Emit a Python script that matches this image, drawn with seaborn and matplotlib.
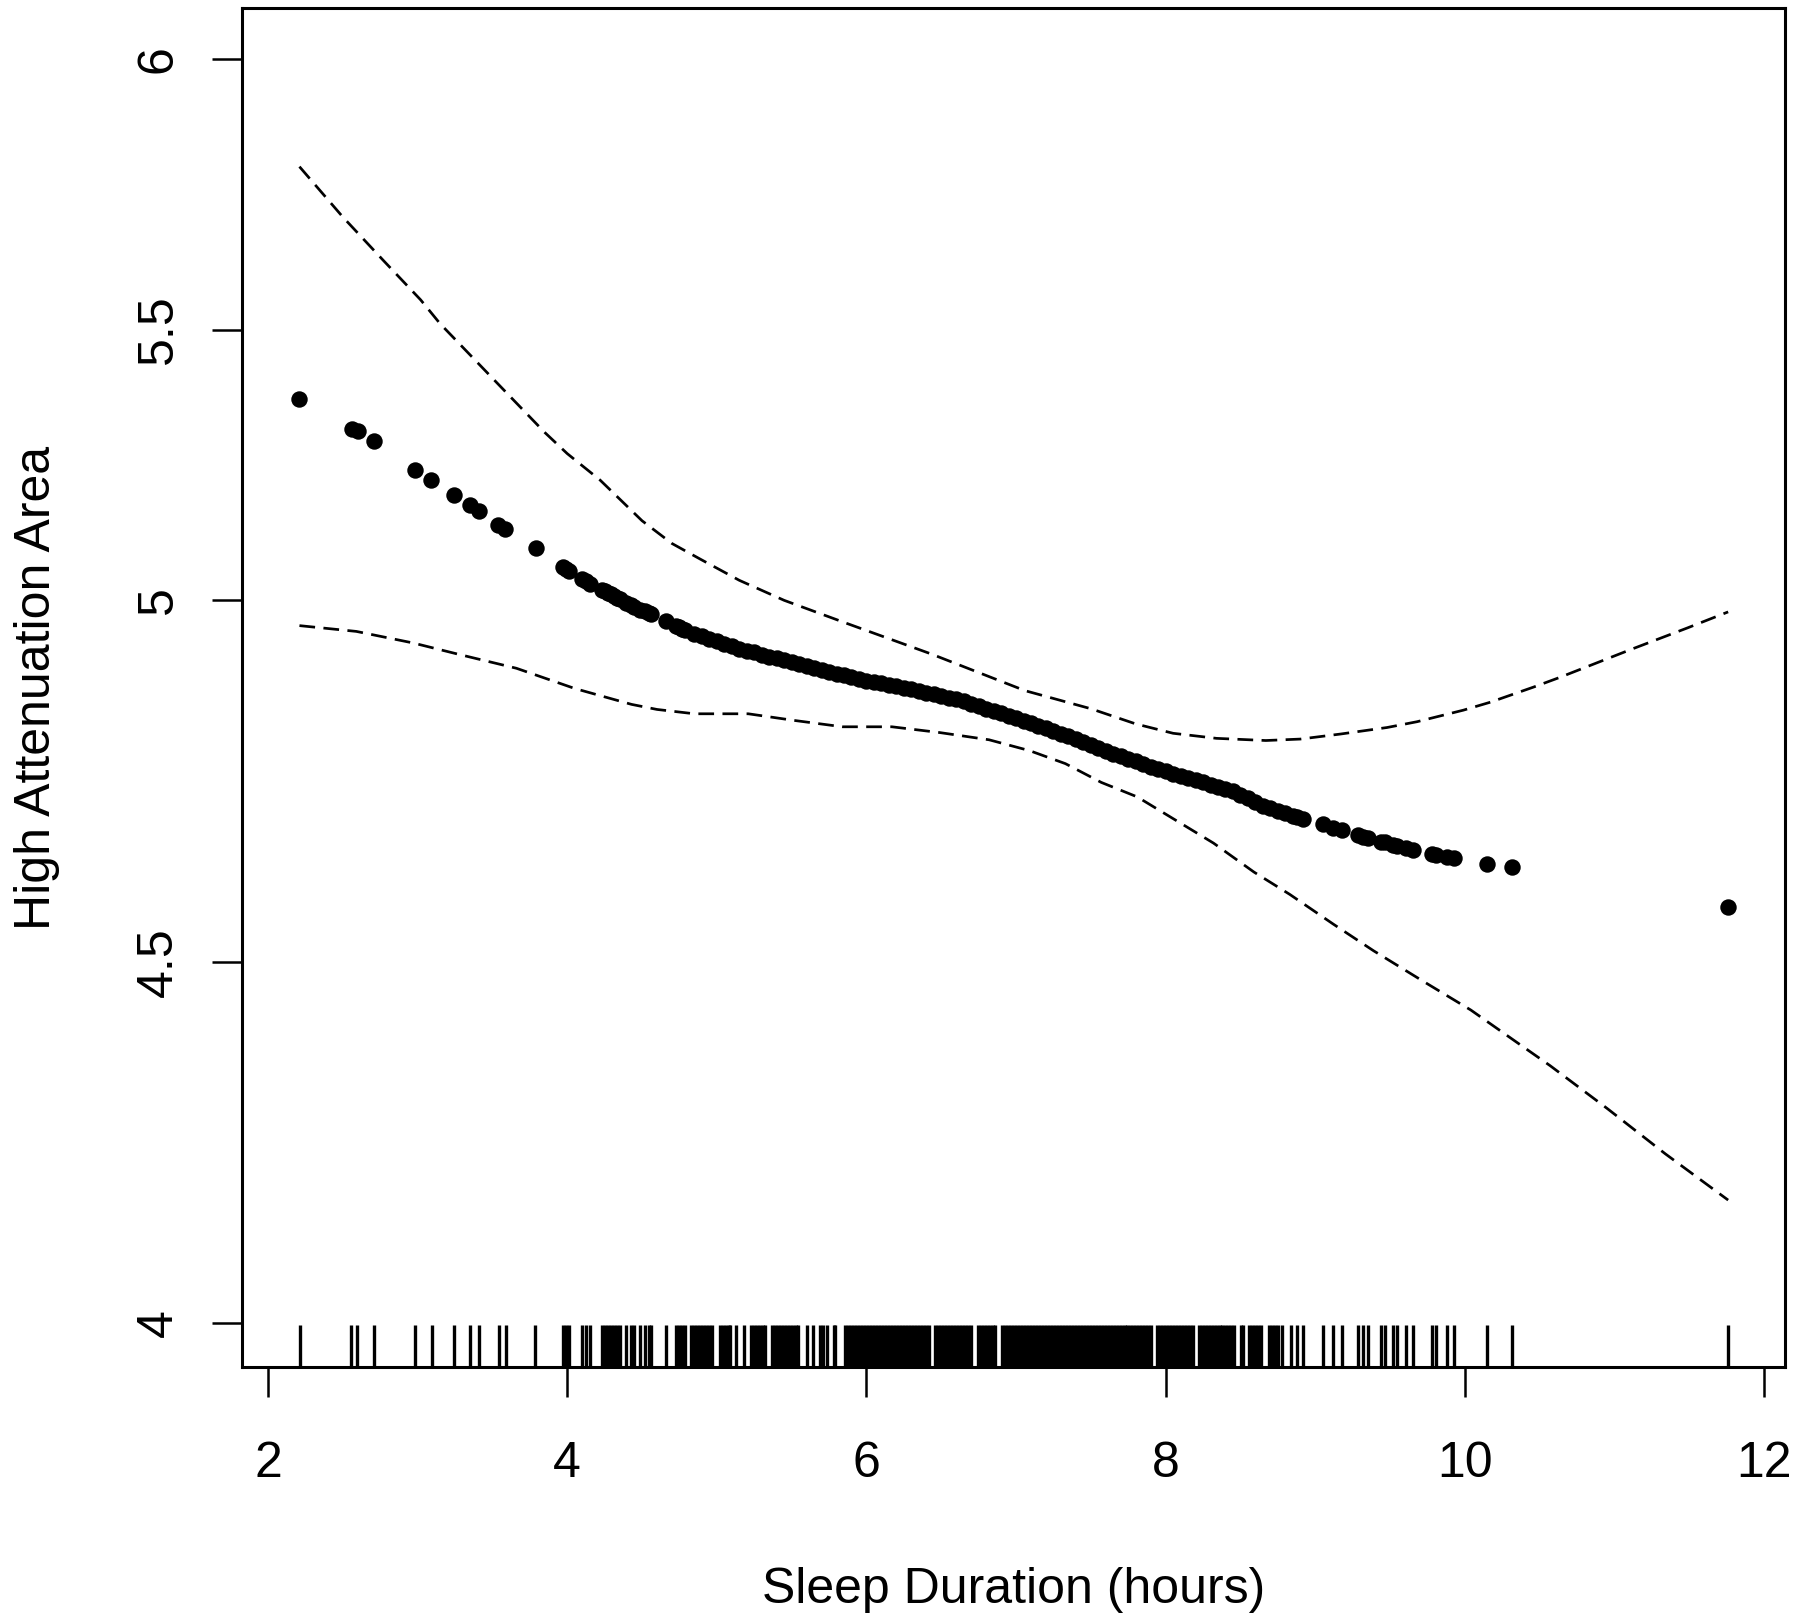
import numpy as np
import matplotlib
matplotlib.use("Agg")
import matplotlib.pyplot as plt
import seaborn as sns

# ---------------- data ----------------
rug_hours = [
    2.214, 2.553, 2.597, 2.706, 2.985, 3.094, 3.241, 3.35, 3.413, 3.542, 3.589,
    3.787, 3.975, 3.995, 4.015, 4.10, 4.125, 4.15, 4.23, 4.25, 4.27, 4.29, 4.31,
    4.33, 4.353, 4.393, 4.424, 4.446, 4.487, 4.52, 4.545, 4.56, 4.658, 4.73,
    4.75, 4.77, 4.79, 4.83, 4.85, 4.87, 4.89, 4.91, 4.93, 4.95, 4.97,
    5.02, 5.04, 5.06, 5.08, 5.09, 5.13, 5.18, 5.23, 5.25, 5.27, 5.29, 5.31,
    5.32, 5.37, 5.39, 5.41, 5.43, 5.45, 5.47, 5.49, 5.51, 5.53, 5.545, 5.60,
    5.645, 5.69, 5.71, 5.735, 5.78, 5.79,
    5.86, 5.88, 5.90, 5.92, 5.94, 5.96, 5.98, 6.00, 6.02, 6.04, 6.06, 6.08,
    6.10, 6.12, 6.14, 6.16, 6.18, 6.20, 6.22, 6.24, 6.26, 6.28, 6.30, 6.32,
    6.34, 6.36, 6.38, 6.40, 6.415,
    6.46, 6.48, 6.50, 6.52, 6.54, 6.56, 6.58, 6.60, 6.62, 6.64, 6.66, 6.68,
    6.70, 6.745, 6.765, 6.785, 6.805, 6.825, 6.845, 6.86,
    6.905, 6.925, 6.945, 6.965, 6.985, 7.005, 7.025, 7.045, 7.065, 7.085,
    7.105, 7.125, 7.145, 7.165, 7.185, 7.205, 7.225, 7.245, 7.265, 7.285,
    7.305, 7.325, 7.345, 7.365, 7.385, 7.405, 7.425, 7.445, 7.465, 7.485,
    7.505, 7.525, 7.545, 7.565, 7.585, 7.605, 7.625, 7.645, 7.665, 7.685,
    7.705, 7.725, 7.745, 7.765, 7.785, 7.805, 7.825, 7.845, 7.865, 7.885,
    7.90, 7.94, 7.96, 7.98, 8.00, 8.02, 8.04, 8.06, 8.08, 8.10, 8.12, 8.14,
    8.16, 8.18, 8.22, 8.24, 8.26, 8.28, 8.30, 8.32, 8.34, 8.36, 8.38, 8.40,
    8.42, 8.44, 8.455, 8.505, 8.52, 8.555, 8.575, 8.595, 8.615, 8.64, 8.69,
    8.71, 8.73, 8.75, 8.775, 8.838, 8.88, 8.92, 9.054, 9.121, 9.177, 9.288,
    9.322, 9.355, 9.438, 9.467, 9.523, 9.549, 9.607, 9.656, 9.778, 9.807,
    9.883, 9.928, 10.146, 10.318, 11.757,
]

pt_hours = [
    2.21, 2.56, 2.60, 2.705, 2.985, 3.09, 3.24, 3.35, 3.413, 3.54, 3.587,
    3.789, 3.975, 3.995, 4.015, 4.10, 4.125, 4.15, 4.23, 4.25, 4.27, 4.29,
    4.31, 4.33, 4.353, 4.393, 4.424, 4.446, 4.487, 4.52, 4.545, 4.56, 4.658,
    4.73, 4.75, 4.77, 4.79,
    4.85, 4.90, 4.95, 5.00, 5.05, 5.10, 5.15, 5.20, 5.25, 5.30, 5.35, 5.40,
    5.45, 5.50, 5.55, 5.60, 5.65, 5.70, 5.75, 5.80, 5.85, 5.90, 5.95, 6.00,
    6.05, 6.10, 6.15, 6.20, 6.25, 6.30, 6.35, 6.40, 6.45, 6.50, 6.55, 6.60,
    6.65, 6.70, 6.75, 6.80, 6.85, 6.90, 6.95, 7.00, 7.05, 7.10, 7.15, 7.20,
    7.25, 7.30, 7.35, 7.40, 7.45, 7.50, 7.55, 7.60, 7.65, 7.70, 7.75, 7.80,
    7.85, 7.90, 7.95, 8.00, 8.05, 8.10, 8.15, 8.20, 8.25, 8.30, 8.35, 8.40,
    8.45, 8.50, 8.55, 8.60, 8.65, 8.70, 8.75, 8.80, 8.85,
    8.88, 8.92, 9.054, 9.121, 9.177, 9.288, 9.322, 9.355, 9.438, 9.467,
    9.523, 9.549, 9.607, 9.656, 9.778, 9.807, 9.883, 9.928, 10.146, 10.318,
    11.757,
]
pt_fit = [
    5.372, 5.317, 5.312, 5.294, 5.240, 5.223, 5.194, 5.176, 5.165, 5.140, 5.132,
    5.096, 5.062, 5.058, 5.055, 5.040, 5.035, 5.031, 5.020, 5.017, 5.014, 5.011,
    5.008, 5.005, 5.002, 4.997, 4.994, 4.991, 4.987, 4.985, 4.983, 4.981, 4.972,
    4.965, 4.963, 4.961, 4.959,
    4.954, 4.951, 4.947, 4.944, 4.940, 4.937, 4.933, 4.930, 4.928, 4.925, 4.922, 4.920,
    4.917, 4.914, 4.912, 4.909, 4.906, 4.904, 4.901, 4.898, 4.896, 4.894, 4.891, 4.889,
    4.887, 4.885, 4.883, 4.881, 4.879, 4.877, 4.875, 4.872, 4.870, 4.868, 4.865, 4.863,
    4.861, 4.857, 4.854, 4.850, 4.847, 4.844, 4.840, 4.837, 4.833, 4.830, 4.826, 4.823,
    4.819, 4.815, 4.812, 4.808, 4.804, 4.800, 4.796, 4.792, 4.788, 4.784, 4.781, 4.777,
    4.773, 4.770, 4.767, 4.764, 4.760, 4.757, 4.754, 4.751, 4.748, 4.745, 4.742, 4.739,
    4.736, 4.731, 4.726, 4.721, 4.716, 4.712, 4.708, 4.705, 4.702,
    4.700, 4.697, 4.690, 4.685, 4.682, 4.675, 4.673, 4.671, 4.666, 4.665,
    4.662, 4.660, 4.657, 4.655, 4.649, 4.648, 4.645, 4.643, 4.635, 4.631,
    4.576,
]

ci_up_hours = [2.21, 2.50, 2.77, 3.02, 3.15, 3.55, 3.85, 4.00, 4.22, 4.50, 4.70,
               4.89, 5.15, 5.45, 5.87, 6.43, 7.06, 7.50, 7.80, 8.05, 8.34, 8.67,
               8.90, 9.17, 9.48, 9.68, 9.99, 10.17, 10.46, 10.63, 11.11, 11.49, 11.76]
ci_up = [5.801, 5.708, 5.628, 5.555, 5.511, 5.396, 5.310, 5.271, 5.222, 5.147, 5.105,
         5.076, 5.037, 5.000, 4.968, 4.926, 4.875, 4.850, 4.829, 4.816, 4.809, 4.806,
         4.808, 4.815, 4.824, 4.832, 4.848, 4.859, 4.880, 4.893, 4.932, 4.962, 4.984]

ci_lo_hours = [2.21, 2.59, 2.97, 3.28, 3.66, 4.05, 4.43, 4.60, 4.85, 5.21, 5.51,
               5.84, 6.17, 6.49, 6.82, 7.09, 7.33, 7.57, 7.81, 8.32, 8.59, 8.83,
               9.12, 9.39, 9.72, 10.04, 10.37, 10.57, 10.95, 11.34, 11.76]
ci_lo = [4.965, 4.957, 4.941, 4.925, 4.906, 4.878, 4.856, 4.849, 4.843, 4.843, 4.834,
         4.825, 4.825, 4.817, 4.807, 4.792, 4.774, 4.748, 4.728, 4.664, 4.624, 4.593,
         4.552, 4.515, 4.473, 4.433, 4.385, 4.356, 4.297, 4.234, 4.170]

x_ticks = [2, 4, 6, 8, 10, 12]
y_ticks = [4, 4.5, 5, 5.5, 6]
y_tick_labels = ["4", "4.5", "5", "5.5", "6"]
x_label = "Sleep Duration (hours)"
y_label = "High Attenuation Area"

# ---------------- style ----------------
sns.set_style("white")
plt.rcParams["font.family"] = ["Liberation Sans", "DejaVu Sans"]
plt.rcParams["axes.edgecolor"] = "black"
plt.rcParams["axes.linewidth"] = 2.2

W, H = 1800, 1620
fig = plt.figure(figsize=(W / 100, H / 100), dpi=100)
left, right, top, bottom = 242, 1785, 8, 1367
ax = fig.add_axes([left / W, 1 - bottom / H, (right - left) / W, (bottom - top) / H])


# the reference's y axis is not uniform: 4 -> 5 spans more than 5 -> 6
def fwd(v):
    v = np.asarray(v, dtype=float)
    return np.where(v <= 5, (v - 4) * 722.0, 722.0 + (v - 5) * 541.0)


def inv(p):
    p = np.asarray(p, dtype=float)
    return np.where(p <= 722.0, 4 + p / 722.0, 5 + (p - 722.0) / 541.0)


ax.set_yscale("function", functions=(fwd, inv))

dash = (0, (5.8, 3.1))
sns.lineplot(x=ci_up_hours, y=ci_up, color="black", linewidth=1.95, linestyle=dash,
             estimator=None, ax=ax)
sns.lineplot(x=ci_lo_hours, y=ci_lo, color="black", linewidth=1.95, linestyle=dash,
             estimator=None, ax=ax)
sns.scatterplot(x=pt_hours, y=pt_fit, color="black", s=140, linewidth=0, ax=ax, zorder=3)
sns.rugplot(x=rug_hours, height=0.031, color="black", linewidth=2.4,
            expand_margins=False, ax=ax)

ax.set_xlim(1.826, 12.140)
ax.set_ylim(3.939, 6.094)
ax.set_xticks(x_ticks)
ax.set_xticklabels([str(t) for t in x_ticks])
ax.set_yticks(y_ticks)
ax.set_yticklabels(y_tick_labels, rotation=90, va="center")
ax.minorticks_off()

for s in ax.spines.values():
    s.set_visible(True)
    s.set_color("black")
    s.set_linewidth(2.2)

ax.tick_params(axis="both", which="major", direction="out", length=21.6, width=1.8,
               colors="black", labelsize=36, left=True, bottom=True)
ax.tick_params(axis="x", pad=32)
ax.tick_params(axis="y", pad=22)

ax.set_xlabel(x_label, fontsize=36, color="black")
ax.set_ylabel(y_label, fontsize=36, color="black")
ax.xaxis.label.set_va("baseline")
ax.yaxis.label.set_va("baseline")
ax.xaxis.set_label_coords(0.5, -(1603 - bottom) / (bottom - top))
ax.yaxis.set_label_coords((50 - left) / (right - left), 0.5)

fig.savefig("out.png", dpi=100, facecolor="white")
